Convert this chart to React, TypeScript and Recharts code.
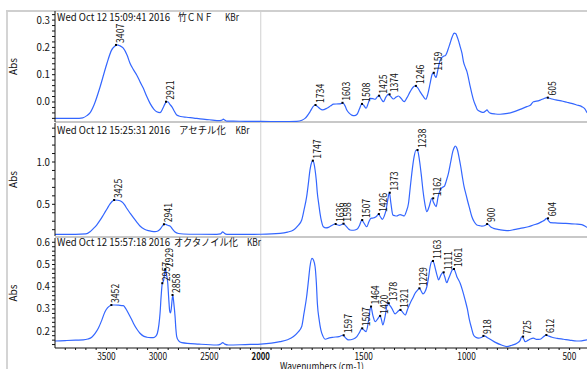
import React from 'react';
import { ComposedChart, Line, Scatter, XAxis, YAxis, ReferenceLine } from 'recharts';

const FONT = "'Noto Sans CJK JP', 'DejaVu Sans Mono', monospace";
const LINE_COLOR = '#3366ff';

// [wavenumber (cm-1), absorbance]
const cnfSpectrum: [number, number][] = [
  [4000, -0.06], [3900, -0.06], [3800, -0.06], [3730, -0.058], [3690, -0.05], [3660, -0.04], [3620, -0.01],
  [3562, 0.055], [3520, 0.11], [3494, 0.143], [3450, 0.19], [3417, 0.205], [3400, 0.209], [3370, 0.206],
  [3336, 0.197], [3300, 0.172], [3271, 0.142], [3240, 0.12], [3206, 0.099], [3175, 0.075], [3141, 0.05],
  [3110, 0.022], [3076, -0.005], [3040, -0.026], [3011, -0.036], [2979, -0.039], [2950, -0.022], [2930, -0.006],
  [2915, 0.001], [2900, 0.0], [2885, -0.008], [2865, -0.017], [2840, -0.034], [2817, -0.048], [2780, -0.053],
  [2720, -0.056], [2650, -0.059], [2590, -0.062], [2500, -0.065], [2396, -0.068], [2375, -0.066], [2364, -0.063],
  [2350, -0.066], [2330, -0.07], [2267, -0.07], [2150, -0.071], [2000, -0.071], [1900, -0.072], [1825, -0.071],
  [1800, -0.067], [1785, -0.06], [1760, -0.035], [1745, -0.016], [1736, -0.011], [1725, -0.016], [1712, -0.025],
  [1700, -0.029], [1679, -0.023], [1660, -0.014], [1647, -0.008], [1623, -0.007], [1610, -0.006], [1601, -0.003],
  [1590, -0.015], [1582, -0.029], [1570, -0.041], [1558, -0.048], [1545, -0.05], [1533, -0.046], [1520, -0.025],
  [1509, -0.007], [1500, -0.012], [1488, -0.023], [1478, -0.005], [1469, 0.013], [1455, 0.012], [1444, 0.01],
  [1435, 0.018], [1425, 0.023], [1414, 0.01], [1404, 0.001], [1392, 0.018], [1380, 0.028], [1368, 0.02],
  [1355, 0.011], [1342, 0.018], [1331, 0.022], [1318, 0.013], [1303, 0.001], [1290, 0.015], [1274, 0.038],
  [1260, 0.054], [1250, 0.059], [1238, 0.053], [1226, 0.038], [1212, 0.022], [1198, 0.01], [1188, 0.03],
  [1177, 0.068], [1168, 0.1], [1162, 0.107], [1155, 0.097], [1148, 0.09], [1140, 0.115], [1133, 0.14],
  [1125, 0.158], [1115, 0.166], [1101, 0.172], [1090, 0.192], [1080, 0.215], [1070, 0.238], [1060, 0.252],
  [1052, 0.25], [1047, 0.242], [1038, 0.222], [1031, 0.203], [1022, 0.178], [1015, 0.148], [1005, 0.125],
  [998, 0.111], [990, 0.085], [982, 0.056], [974, 0.03], [966, 0.007], [955, -0.015], [947, -0.029],
  [930, -0.036], [918, -0.038], [906, -0.032], [901, -0.029], [893, -0.036], [885, -0.041], [860, -0.044],
  [837, -0.045], [800, -0.042], [772, -0.036], [740, -0.027], [707, -0.017], [690, -0.012], [675, 0.001],
  [660, 0.003], [642, 0.007], [625, 0.012], [610, 0.016], [590, 0.012], [575, 0.009], [561, 0.007],
  [540, 0.004], [512, -0.001], [490, -0.005], [464, -0.011], [440, -0.017], [425, -0.025], [415, -0.038],
  [400, -0.045],
];

const acetylSpectrum: [number, number][] = [
  [4000, 0.145], [3800, 0.145], [3700, 0.15], [3660, 0.176], [3630, 0.21], [3595, 0.255], [3560, 0.315],
  [3530, 0.374], [3495, 0.445], [3465, 0.504], [3440, 0.54], [3420, 0.551], [3390, 0.548], [3351, 0.531],
  [3325, 0.497], [3303, 0.453], [3270, 0.395], [3238, 0.342], [3205, 0.29], [3174, 0.244], [3130, 0.205],
  [3093, 0.188], [3060, 0.18], [3028, 0.176], [3000, 0.185], [2979, 0.205], [2955, 0.245], [2940, 0.264],
  [2924, 0.262], [2900, 0.25], [2882, 0.244], [2860, 0.21], [2833, 0.173], [2800, 0.155], [2753, 0.149],
  [2600, 0.146], [2428, 0.145], [2390, 0.15], [2370, 0.173], [2355, 0.16], [2340, 0.148], [2315, 0.145],
  [2200, 0.144], [2000, 0.146], [1906, 0.157], [1870, 0.172], [1841, 0.196], [1820, 0.245], [1801, 0.314],
  [1790, 0.43], [1777, 0.59], [1768, 0.76], [1761, 0.905], [1752, 1.0], [1747, 1.016], [1742, 0.99],
  [1736, 0.905], [1730, 0.78], [1725, 0.63], [1718, 0.5], [1712, 0.393], [1705, 0.3], [1696, 0.235],
  [1683, 0.222], [1671, 0.228], [1655, 0.25], [1639, 0.267], [1628, 0.258], [1618, 0.252], [1605, 0.264],
  [1598, 0.271], [1588, 0.248], [1575, 0.212], [1566, 0.196], [1550, 0.193], [1533, 0.204], [1520, 0.25],
  [1509, 0.314], [1500, 0.285], [1485, 0.235], [1475, 0.29], [1465, 0.334], [1455, 0.337], [1444, 0.346],
  [1435, 0.365], [1428, 0.385], [1418, 0.35], [1409, 0.322], [1400, 0.36], [1391, 0.433], [1383, 0.55],
  [1375, 0.637], [1368, 0.52], [1358, 0.374], [1348, 0.365], [1339, 0.362], [1330, 0.372], [1323, 0.377],
  [1312, 0.37], [1303, 0.362], [1292, 0.42], [1282, 0.512], [1274, 0.69], [1266, 0.866], [1255, 1.06],
  [1245, 1.142], [1237, 1.13], [1229, 1.024], [1220, 0.85], [1212, 0.669], [1202, 0.5], [1193, 0.413],
  [1182, 0.47], [1169, 0.571], [1160, 0.52], [1148, 0.472], [1138, 0.59], [1128, 0.669], [1117, 0.7],
  [1107, 0.716], [1098, 0.78], [1088, 0.866], [1077, 1.0], [1067, 1.122], [1060, 1.17], [1055, 1.189],
  [1049, 1.175], [1044, 1.142], [1036, 1.05], [1028, 0.944], [1020, 0.82], [1012, 0.708], [1004, 0.63],
  [996, 0.551], [985, 0.45], [974, 0.353], [962, 0.29], [950, 0.255], [938, 0.248], [926, 0.243],
  [910, 0.25], [898, 0.267], [884, 0.235], [869, 0.216], [840, 0.2], [804, 0.188], [770, 0.2],
  [739, 0.216], [700, 0.235], [675, 0.255], [650, 0.275], [634, 0.295], [620, 0.315], [611, 0.334],
  [600, 0.3], [593, 0.283], [570, 0.28], [529, 0.275], [500, 0.272], [472, 0.267], [440, 0.26],
  [415, 0.228], [400, 0.215],
];

const octanoylSpectrum: [number, number][] = [
  [4000, 0.156], [3900, 0.158], [3800, 0.16], [3725, 0.161], [3680, 0.165], [3643, 0.173], [3610, 0.19],
  [3579, 0.213], [3545, 0.25], [3514, 0.288], [3490, 0.305], [3465, 0.315], [3440, 0.318], [3417, 0.318],
  [3380, 0.317], [3336, 0.315], [3310, 0.3], [3287, 0.281], [3260, 0.257], [3238, 0.236], [3205, 0.21],
  [3174, 0.191], [3140, 0.178], [3108, 0.173], [3070, 0.171], [3044, 0.171], [3020, 0.178], [3005, 0.191],
  [2990, 0.23], [2979, 0.281], [2968, 0.36], [2957, 0.416], [2945, 0.428], [2935, 0.46], [2927, 0.479],
  [2918, 0.46], [2904, 0.416], [2895, 0.35], [2885, 0.29], [2878, 0.282], [2870, 0.3], [2862, 0.34],
  [2855, 0.363], [2846, 0.33], [2833, 0.266], [2825, 0.21], [2817, 0.176], [2800, 0.158], [2768, 0.149],
  [2600, 0.142], [2428, 0.138], [2390, 0.142], [2370, 0.149], [2350, 0.142], [2315, 0.138], [2150, 0.14],
  [2000, 0.142], [1906, 0.153], [1870, 0.162], [1841, 0.176], [1820, 0.195], [1801, 0.221], [1790, 0.28],
  [1777, 0.356], [1768, 0.43], [1761, 0.49], [1751, 0.528], [1744, 0.52], [1736, 0.49], [1730, 0.42],
  [1725, 0.326], [1716, 0.25], [1708, 0.206], [1698, 0.178], [1687, 0.164], [1667, 0.17], [1647, 0.173],
  [1620, 0.176], [1601, 0.182], [1588, 0.17], [1574, 0.161], [1550, 0.165], [1533, 0.176], [1520, 0.195],
  [1509, 0.213], [1498, 0.205], [1488, 0.198], [1477, 0.243], [1465, 0.311], [1455, 0.27], [1444, 0.243],
  [1432, 0.255], [1420, 0.269], [1413, 0.25], [1407, 0.228], [1396, 0.266], [1383, 0.326], [1372, 0.315],
  [1363, 0.303], [1347, 0.278], [1335, 0.288], [1323, 0.296], [1310, 0.285], [1298, 0.273], [1286, 0.3],
  [1274, 0.326], [1260, 0.352], [1250, 0.371], [1240, 0.383], [1229, 0.393], [1220, 0.38], [1212, 0.368],
  [1202, 0.378], [1193, 0.4], [1185, 0.44], [1177, 0.49], [1166, 0.516], [1158, 0.505], [1152, 0.483],
  [1143, 0.45], [1136, 0.431], [1126, 0.45], [1115, 0.465], [1106, 0.445], [1096, 0.418], [1088, 0.435],
  [1080, 0.453], [1070, 0.475], [1062, 0.48], [1055, 0.468], [1047, 0.445], [1040, 0.433], [1031, 0.416],
  [1020, 0.385], [1007, 0.341], [996, 0.3], [986, 0.251], [976, 0.215], [966, 0.183], [955, 0.173],
  [942, 0.169], [928, 0.172], [914, 0.179], [900, 0.172], [885, 0.164], [860, 0.15], [830, 0.138],
  [804, 0.131], [780, 0.137], [755, 0.146], [740, 0.158], [731, 0.176], [722, 0.165], [715, 0.153],
  [700, 0.16], [690, 0.165], [675, 0.169], [660, 0.163], [642, 0.164], [625, 0.176], [614, 0.183],
  [600, 0.178], [585, 0.173], [560, 0.168], [529, 0.164], [500, 0.16], [464, 0.156], [440, 0.157],
  [415, 0.161], [400, 0.15],
];

// Peak labels: [label wavenumber, absorbance at peak]
const cnfPeaks: [number, number][] = [
  [3407, 0.209], [2921, 0.001], [1734, -0.011], [1603, -0.003], [1508, -0.007], [1425, 0.023],
  [1374, 0.028], [1246, 0.059], [1159, 0.107], [605, 0.016],
];
const acetylPeaks: [number, number][] = [
  [3425, 0.551], [2941, 0.264], [1747, 1.016], [1636, 0.267], [1598, 0.271], [1507, 0.314],
  [1426, 0.385], [1373, 0.637], [1238, 1.142], [1162, 0.571], [900, 0.267], [604, 0.334],
];
const octanoylPeaks: [number, number][] = [
  [3452, 0.318], [2957, 0.416], [2929, 0.479], [2858, 0.363], [1597, 0.182], [1507, 0.213],
  [1464, 0.311], [1420, 0.269], [1378, 0.326], [1321, 0.296], [1229, 0.393], [1163, 0.516],
  [1111, 0.465], [1061, 0.48], [918, 0.179], [725, 0.176], [612, 0.183],
];

const titleStamps = ['Wed Oct 12 15:09:41 2016', 'Wed Oct 12 15:25:31 2016', 'Wed Oct 12 15:57:18 2016'];
const sampleNames = ['竹ＣＮＦ', 'アセチル化', 'オクタノイル化'];
const matrixName = 'KBr';

const cnfYTicks = [-0.06, -0.04, -0.02, 0, 0.02, 0.04, 0.06, 0.08, 0.1, 0.12, 0.14, 0.16, 0.18, 0.2, 0.22, 0.24, 0.26, 0.28, 0.3, 0.32];
const cnfYLabels = [0, 0.1, 0.2, 0.3];
const acetylYTicks = [0.2, 0.3, 0.4, 0.5, 0.6, 0.7, 0.8, 0.9, 1.0, 1.1, 1.2, 1.3, 1.4];
const acetylYLabels = [0.5, 1.0];
const octanoylYTicks = [0.14, 0.16, 0.18, 0.2, 0.22, 0.24, 0.26, 0.28, 0.3, 0.32, 0.34, 0.36, 0.38, 0.4, 0.42, 0.44, 0.46, 0.48, 0.5, 0.52, 0.54, 0.56, 0.58, 0.6];
const octanoylYLabels = [0.2, 0.3, 0.4, 0.5, 0.6];

const xTickWavenumbers = [
  3900, 3800, 3700, 3600, 3500, 3400, 3300, 3200, 3100, 3000, 2900, 2800, 2700, 2600, 2500, 2400, 2300, 2200, 2100, 2000,
  1950, 1900, 1850, 1800, 1750, 1700, 1650, 1600, 1550, 1500, 1450, 1400, 1350, 1300, 1250, 1200, 1150, 1100, 1050, 1000,
  950, 900, 850, 800, 750, 700, 650, 600, 550, 500, 450, 400,
];
const xTickLabels = [3500, 3000, 2500, 2000, 1500, 1000, 500];

// split wavenumber axis: 4000-2000 compressed, 2000-400 expanded (x2)
const toPos = (w: number) => (w >= 2000 ? 4000 - w : 2000 + 2 * (2000 - w));
const fromPos = (p: number) => (p <= 2000 ? 4000 - p : 2000 - (p - 2000) / 2);
const X_DOMAIN: [number, number] = [toPos(4000), toPos(400)];

const toSeries = (s: [number, number][]) => s.map(([w, a]) => ({ x: toPos(w), y: a }));
const toPeaks = (s: [number, number][]) => s.map(([w, a]) => ({ x: toPos(w), y: a, label: String(w) }));

const CHART_W = 590;
const Y_W = 55;
const PAD_TOP = 8;

const PeakMark = (props: any) => {
  const { cx, cy, payload } = props;
  if (cx == null || cy == null) return null;
  const n = payload.label.length;
  return (
    <g>
      <rect x={cx - 1} y={cy - 1} width={2} height={2} fill="#000" />
      <text
        transform={`translate(${cx + 8},${cy - 2}) rotate(-90)`}
        fontSize={10}
        fontFamily={FONT}
        fill="#111"
        textLength={n * 4.8}
        lengthAdjust="spacingAndGlyphs"
      >
        {payload.label}
      </text>
    </g>
  );
};

const AbsLabel = (props: any) => {
  const vb = props.viewBox || {};
  const cy = (vb.y || 0) + (vb.height || 0) / 2;
  return (
    <text transform={`translate(17,${cy}) rotate(-90)`} textAnchor="middle" fontSize={10} fontFamily={FONT} fill="#111">
      Abs
    </text>
  );
};

const makeYTick = (labels: number[]) => (props: any) => {
  const { x, y, payload } = props;
  const v = payload.value;
  if (!labels.some((l) => Math.abs(l - v) < 1e-6)) return null;
  const s = v.toFixed(1);
  return (
    <text x={x} y={y} dy="0.35em" textAnchor="end" fontSize={10} fontFamily={FONT} fill="#111" textLength={13.5} lengthAdjust="spacingAndGlyphs">
      {s}
    </text>
  );
};

const XTick = (props: any) => {
  const { x, y, payload } = props;
  const w = Math.round(fromPos(payload.value));
  if (!xTickLabels.includes(w)) return null;
  const s = String(w);
  return (
    <text
      x={x}
      y={y}
      dy="0.75em"
      textAnchor="middle"
      fontSize={10}
      fontFamily={FONT}
      fill="#111"
      fontWeight={w === 2000 ? 'bold' : 'normal'}
      textLength={s.length * 4.6}
      lengthAdjust="spacingAndGlyphs"
    >
      {s}
    </text>
  );
};

const XLabel = (props: any) => {
  const vb = props.viewBox || {};
  return (
    <text x={280} y={(vb.y || 0) + 22} fontSize={10} fontFamily={FONT} fill="#111" textLength={84} lengthAdjust="spacingAndGlyphs">
      Wavenumbers (cm-1)
    </text>
  );
};

type PanelProps = {
  top: number;
  plotHeight: number;
  domain: [number, number];
  ticks: number[];
  labels: number[];
  spectrum: [number, number][];
  peaks: [number, number][];
  showX?: boolean;
};

const Panel = ({ top, plotHeight, domain, ticks, labels, spectrum, peaks, showX }: PanelProps) => {
  const xAxisH = showX ? 25 : 0;
  const YTick = makeYTick(labels);
  return (
    <div style={{ position: 'absolute', left: 0, top: top - PAD_TOP }}>
      <ComposedChart width={CHART_W} height={plotHeight + xAxisH + PAD_TOP} margin={{ top: PAD_TOP, right: 0, bottom: 0, left: 0 }}>
        <XAxis
          type="number"
          dataKey="x"
          domain={X_DOMAIN}
          allowDataOverflow
          hide={!showX}
          height={xAxisH}
          ticks={xTickWavenumbers.map(toPos)}
          interval={0}
          tickSize={2}
          tickMargin={2}
          tick={<XTick />}
          axisLine={{ stroke: '#111' }}
          tickLine={{ stroke: '#111' }}
          label={showX ? <XLabel /> : undefined}
        />
        <YAxis
          type="number"
          domain={domain}
          allowDataOverflow
          width={Y_W}
          ticks={ticks}
          interval={0}
          tickSize={3}
          tickMargin={2}
          tick={<YTick />}
          axisLine={{ stroke: '#111' }}
          tickLine={{ stroke: '#111' }}
          label={<AbsLabel />}
        />
        <ReferenceLine x={toPos(2000)} stroke="#d0d0d0" strokeWidth={1} />
        <Line
          data={toSeries(spectrum)}
          dataKey="y"
          type="monotone"
          stroke={LINE_COLOR}
          strokeWidth={1.2}
          dot={false}
          activeDot={false}
          isAnimationActive={false}
        />
        <Scatter data={toPeaks(peaks)} dataKey="y" shape={<PeakMark />} isAnimationActive={false} />
      </ComposedChart>
    </div>
  );
};

// title part placement (x start, width) per panel
const stampX = 57;
const stampW = 113;
const nameX = [178, 179, 174];
const nameW = [35, 47, 64];
const kbrX = [225, 235.5, 247];
const titleYs = [17, 130.5, 242.5];

export default function App() {
  return (
    <div style={{ position: 'absolute', left: 0, top: 0, width: 587, height: 369, overflow: 'hidden', background: '#fff' }}>
      <div style={{ position: 'absolute', left: 6, top: 10, width: 2, height: 359, background: '#d4d4d4' }} />
      <div style={{ position: 'absolute', left: 6, top: 10, width: 590, height: 2, background: '#cfcfcf' }} />
      <div style={{ position: 'absolute', left: 55, top: 121, width: 540, height: 2, background: '#c8c8c8' }} />
      <div style={{ position: 'absolute', left: 55, top: 236, width: 540, height: 2, background: '#c8c8c8' }} />
      <Panel top={11} plotHeight={111} domain={[-0.0733, 0.3333]} ticks={cnfYTicks} labels={cnfYLabels} spectrum={cnfSpectrum} peaks={cnfPeaks} />
      <Panel top={123} plotHeight={113} domain={[0.1253, 1.461]} ticks={acetylYTicks} labels={acetylYLabels} spectrum={acetylSpectrum} peaks={acetylPeaks} />
      <Panel top={238} plotHeight={110} domain={[0.1246, 0.6193]} ticks={octanoylYTicks} labels={octanoylYLabels} spectrum={octanoylSpectrum} peaks={octanoylPeaks} showX />
      <svg style={{ position: 'absolute', left: 0, top: 0 }} width={587} height={369}>
        {titleStamps.map((t, i) => (
          <g key={i} fontSize={10} fontFamily={FONT} fill="#111">
            <text x={stampX} y={titleYs[i]} dy="0.35em" textLength={stampW} lengthAdjust="spacingAndGlyphs">{t}</text>
            <text x={nameX[i]} y={titleYs[i]} dy="0.35em" textLength={nameW[i]} lengthAdjust="spacingAndGlyphs">{sampleNames[i]}</text>
            <text x={kbrX[i]} y={titleYs[i]} dy="0.35em" textLength={14} lengthAdjust="spacingAndGlyphs">{matrixName}</text>
          </g>
        ))}
      </svg>
    </div>
  );
}
